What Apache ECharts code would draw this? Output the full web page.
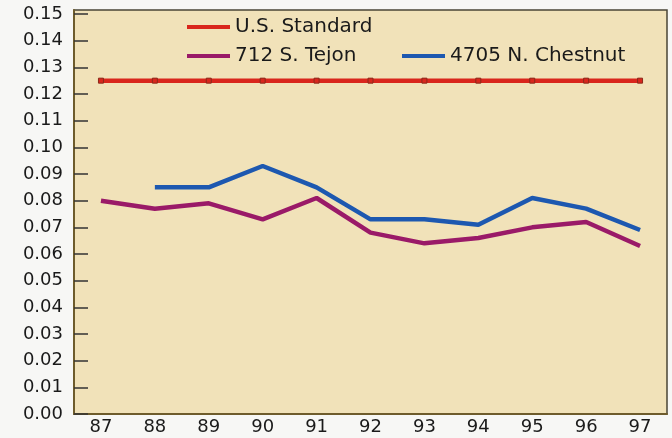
<!DOCTYPE html>
<html>
<head>
<meta charset="utf-8">
<script src="https://cdn.jsdelivr.net/npm/echarts@6/dist/echarts.min.js"></script>
<style>
html,body{margin:0;padding:0;background:#f7f7f5;}
#chart{width:672px;height:438px;}
</style>
</head>
<body>
<div id="chart"></div>
<script>
const categories = ['87','88','89','90','91','92','93','94','95','96','97'];
const usStandard = [0.125,0.125,0.125,0.125,0.125,0.125,0.125,0.125,0.125,0.125,0.125];
const tejon = [0.080,0.077,0.079,0.073,0.081,0.068,0.064,0.066,0.070,0.072,0.063];
const chestnut = ['-',0.085,0.085,0.093,0.085,0.073,0.073,0.071,0.081,0.077,0.069];
const seriesNames = ['U.S. Standard','712 S. Tejon','4705 N. Chestnut'];
const colors = ['#d9261c','#9a1a68','#1d58b0'];

const font = 'DejaVu Sans';
function legendFor(name, color, left, top){
  return {
    data:[{name:name, itemStyle:{color:color, borderWidth:0}}],
    left:left, top:top, padding:0, icon:'rect', itemWidth:43, itemHeight:4,
    textStyle:{fontFamily:font, fontSize:20, color:'#1a1a1a'},
    selectedMode:false
  };
}

const chart = echarts.init(document.getElementById('chart'));
chart.setOption({
  backgroundColor:'#f7f7f5',
  animation:false,
  legend:[
    legendFor(seriesNames[0], colors[0], 187, 17),
    legendFor(seriesNames[1], colors[1], 187, 46),
    legendFor(seriesNames[2], colors[2], 402, 46)
  ],
  grid:{left:74, right:5, top:10, bottom:24, show:true,
        backgroundColor:'#f1e2b9', borderColor:'#4a4636', borderWidth:1.5},
  xAxis:{
    type:'category', data:categories, boundaryGap:true,
    axisLine:{lineStyle:{color:'#6e5c2c', width:2}},
    axisTick:{inside:true, length:10, lineStyle:{color:'#333', width:1.5}},
    axisLabel:{fontFamily:font, fontSize:18, color:'#1a1a1a', margin:4}
  },
  yAxis:{
    type:'value', min:0, max:0.1515, interval:0.01,
    splitLine:{show:false},
    axisLine:{show:true, lineStyle:{color:'#6e5c2c', width:2}},
    axisTick:{show:true, inside:true, length:14, lineStyle:{color:'#333', width:1.5}},
    axisLabel:{fontFamily:font, fontSize:18, color:'#1a1a1a', margin:11,
      showMaxLabel:false, formatter:v=>v.toFixed(2)}
  },
  series:[
    {name:seriesNames[0], type:'line', data:usStandard, symbol:'rect', symbolSize:5,
     showSymbol:true, lineStyle:{color:colors[0], width:4.5},
     itemStyle:{color:colors[0], borderColor:'#8a2a1a', borderWidth:1}},
    {name:seriesNames[1], type:'line', data:tejon, showSymbol:false, symbol:'none',
     lineStyle:{color:colors[1], width:4.5}, itemStyle:{color:colors[1]}},
    {name:seriesNames[2], type:'line', data:chestnut, showSymbol:false, symbol:'none',
     lineStyle:{color:colors[2], width:4.5}, itemStyle:{color:colors[2]}}
  ]
});
</script>
</body>
</html>
